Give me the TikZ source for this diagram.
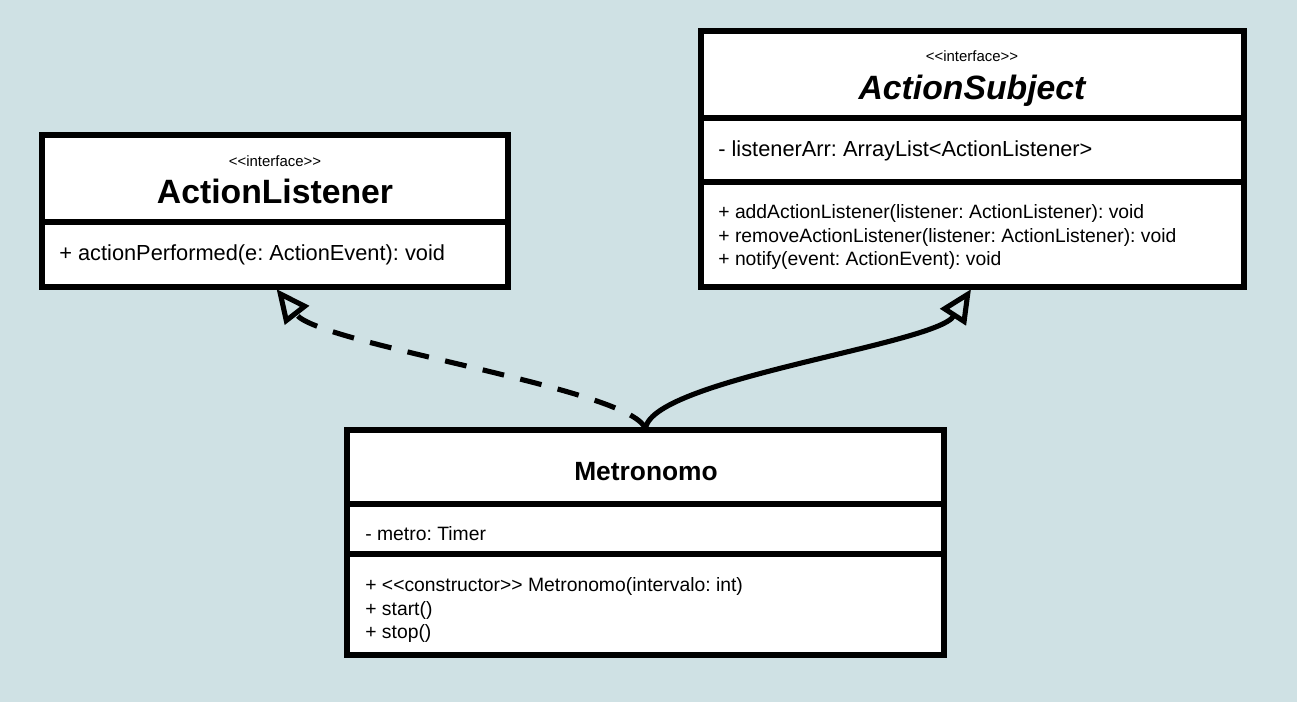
\documentclass[tikz,border=0pt]{standalone}
\usepackage{fontspec}
\setmainfont{Liberation Sans}[Ligatures=TeXOff]
\usetikzlibrary{arrows.meta}
\definecolor{bgblue}{RGB}{207,225,228}
\frenchspacing

\tikzset{
    compart/.style={draw, fill=white, line width=3.6pt, inner sep=0pt, outer sep=0pt, anchor=north west},
    stereo/.style={anchor=base, inner sep=0pt, font=\fontsize{8.5}{10}\selectfont},
    clname/.style={anchor=base, inner sep=0pt, font=\fontsize{19.2}{22}\selectfont\bfseries},
    member/.style={anchor=base west, inner sep=0pt, font=\fontsize{11}{13}\selectfont},
    bigmember/.style={anchor=base west, inner sep=0pt, font=\fontsize{12.4}{15}\selectfont},
    realizes/.style={line width=2.9pt, dash pattern=on 12.5pt off 9.5pt, shorten >=1.5pt,
        -{Triangle[open, length=19pt, width=17pt]}},
    extends/.style={line width=2.9pt, shorten >=1.5pt, -{Triangle[open, length=19pt, width=17pt]}},
}

\begin{document}
\begin{tikzpicture}[x=0.02cm, y=-0.02cm]
    \fill[bgblue] (0,0) rectangle (1297,702);
    \useasboundingbox (0,0) rectangle (1297,702);

    % ActionListener
    \node[compart, minimum width=9.32cm, minimum height=1.74cm] (alHead) at (42,135) {};
    \node[compart, minimum width=9.32cm, minimum height=1.30cm] (alAttr) at (alHead.south west) {};
    \node[stereo] (alStereo) at (275,167) {<<interface>>};
    \node[clname] (alName) at (275,204) {ActionListener};
    \node[bigmember] (alOp1) at (59,261) {+ actionPerformed(e: ActionEvent): void};

    % ActionSubject
    \node[compart, minimum width=10.86cm, minimum height=1.74cm] (asHead) at (701,31) {};
    \node[compart, minimum width=10.86cm, minimum height=1.28cm] (asAttr) at (asHead.south west) {};
    \node[compart, minimum width=10.86cm, minimum height=2.10cm] (asOps) at (asAttr.south west) {};
    \node[stereo] (asStereo) at (972,62) {<<interface>>};
    \node[clname, font=\fontsize{19.2}{22}\selectfont\bfseries\itshape] (asName) at (972,100) {ActionSubject};
    \node[bigmember] (asAttr1) at (718,157) {- listenerArr: ArrayList<ActionListener>};
    \node[member] (asOp1) at (718,219) {+ addActionListener(listener: ActionListener): void};
    \node[member] (asOp2) at (718,243) {+ removeActionListener(listener: ActionListener): void};
    \node[member] (asOp3) at (718,266) {+ notify(event: ActionEvent): void};

    % Metronomo
    \node[compart, minimum width=11.94cm, minimum height=1.48cm] (mHead) at (347,430) {};
    \node[compart, minimum width=11.94cm, minimum height=1.00cm] (mAttr) at (mHead.south west) {};
    \node[compart, minimum width=11.94cm, minimum height=2.02cm] (mOps) at (mAttr.south west) {};
    \node[clname, font=\fontsize{15}{18}\selectfont\bfseries] (mName) at (646,480) {Metronomo};
    \node[member] (mAttr1) at (365,540) {- metro: Timer};
    \node[member] (mOp1) at (365,591) {+ <<constructor>> Metronomo(intervalo: int)};
    \node[member] (mOp2) at (365,615) {+ start()};
    \node[member] (mOp3) at (365,638) {+ stop()};

    % relations
    \draw[realizes] (mHead.north) .. controls (640,390) and (320,345) .. (alAttr.south);
    \draw[extends] (mHead.north) .. controls (646,380) and (935,345) .. (asOps.south);
\end{tikzpicture}
\end{document}
